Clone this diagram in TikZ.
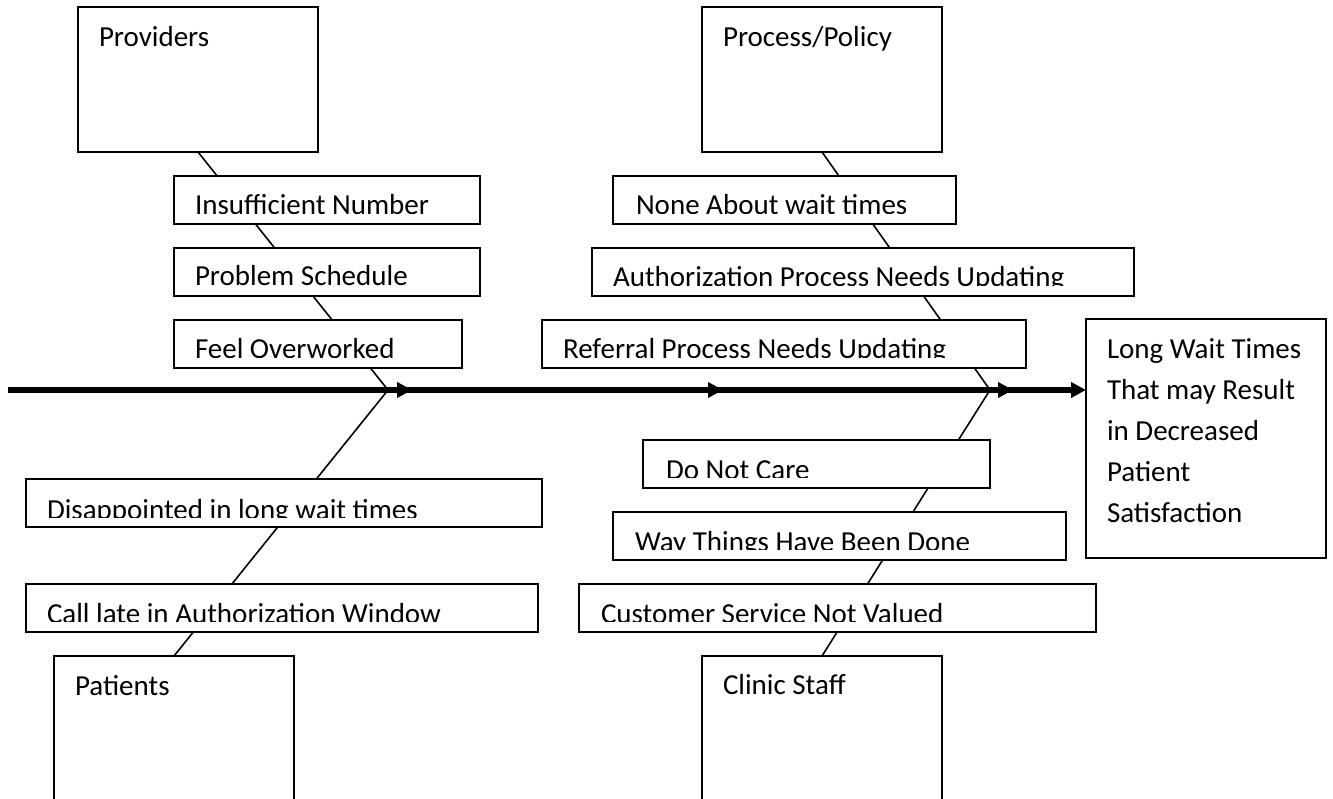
\documentclass[tikz,border=0pt]{standalone}
\usepackage{fontspec}
\setmainfont{Carlito}
\usetikzlibrary{arrows.meta}
\pgfdeclarelayer{background}
\pgfsetlayers{background,main}
\tikzset{
  catbox/.style={draw, line width=1.8pt, fill=white, minimum width=240pt, minimum height=145pt, anchor=north west, inner sep=0pt, outer sep=0pt},
  causebox/.style={draw, line width=1.8pt, fill=white, minimum height=48pt, anchor=north west, inner sep=0pt, outer sep=0pt},
  lbl/.style={anchor=base west, inner sep=0pt, outer sep=0pt, font=\fontsize{29}{35}\selectfont},
  bone/.style={line width=1.6pt},
  spine/.style={line width=5.5pt, -{Triangle[length=15pt,width=15pt]}},
}
\begin{document}
\begin{tikzpicture}[x=1pt,y=-1pt]
\begin{pgfonlayer}{background}
\fill[white] (0,0) rectangle (1333,799);
\end{pgfonlayer}
\useasboundingbox (0,0) rectangle (1333,799);

% category boxes
\node[catbox] (prov) at (78,7) {};
\node[lbl] (tprov) at (99,47) {Providers};
\node[catbox] (proc) at (702,7) {};
\node[lbl] (tproc) at (723,47) {Process/Policy};
\node[catbox] (pat) at (54,656) {};
\node[lbl] (tpat) at (75,695) {Patients};
\node[catbox] (clin) at (702,656) {};
\node[lbl] (tclin) at (723,694) {Clinic Staff};

% result box
\node[catbox, minimum height=239pt] (res) at (1086,319) {};
\node[lbl, align=left, font=\fontsize{29}{41}\selectfont] (tres) at (1107,522)
  {Long Wait Times\\That may Result\\in Decreased\\Patient\\Satisfaction};

% cause boxes (text clipped at the bottom as in the original)
\node[causebox, minimum width=306pt] (ins) at (174,176) {};
\begin{scope}\clip (174,176) rectangle (480,213.5);
\node[lbl] (tins) at (195,215) {Insufficient Number};\end{scope}

\node[causebox, minimum width=306pt] (prob) at (174,248) {};
\node[lbl] (tprob) at (195,286) {Problem Schedule};

\node[causebox, minimum width=288pt] (feel) at (174,320) {};
\begin{scope}\clip (174,320) rectangle (462,357.5);
\node[lbl] (tfeel) at (195,359) {Feel Overworked};\end{scope}

\node[causebox, minimum width=343pt] (none) at (613,176) {};
\begin{scope}\clip (613,176) rectangle (956,213.5);
\node[lbl] (tnone) at (636,215) {None About wait times};\end{scope}

\node[causebox, minimum width=542pt] (auth) at (592,248) {};
\begin{scope}\clip (592,248) rectangle (1134,285.5);
\node[lbl] (tauth) at (613,287) {Authorization Process Needs Updating};\end{scope}

\node[causebox, minimum width=484pt] (ref) at (542,320) {};
\begin{scope}\clip (542,320) rectangle (1026,357.5);
\node[lbl] (tref) at (563,359) {Referral Process Needs Updating};\end{scope}

\node[causebox, minimum width=516pt] (dis) at (26,479) {};
\begin{scope}\clip (26,479) rectangle (542,517.5);
\node[lbl] (tdis) at (47,519) {Disappointed in long wait times};\end{scope}

\node[causebox, minimum width=512pt] (call) at (26,584) {};
\begin{scope}\clip (26,584) rectangle (538,621.5);
\node[lbl] (tcall) at (47,623) {Call late in Authorization Window};\end{scope}

\node[causebox, minimum width=347pt] (dnc) at (643,440) {};
\begin{scope}\clip (643,440) rectangle (990,477.5);
\node[lbl] (tdnc) at (666,479) {Do Not Care};\end{scope}

\node[causebox, minimum width=453pt] (way) at (613,512) {};
\begin{scope}\clip (613,512) rectangle (1066,549.5);
\node[lbl] (tway) at (635,551) {Way Things Have Been Done};\end{scope}

\node[causebox, minimum width=517pt] (cust) at (579,584) {};
\begin{scope}\clip (579,584) rectangle (1096,621.5);
\node[lbl] (tcust) at (601,623) {Customer Service Not Valued};\end{scope}

% spine
\coordinate (s0) at (8,390);
\coordinate (a1) at (412,390);
\coordinate (b1) at (396,390);
\coordinate (a2) at (723,390);
\coordinate (b2) at (707,390);
\coordinate (a3) at (1013,390);
\coordinate (b3) at (997,390);
\coordinate (j1) at (388,390);
\coordinate (j2) at (990,390);

\begin{pgfonlayer}{background}
\draw[bone] (prov.south) -- (j1);
\draw[bone] (pat.north) -- (j1);
\draw[bone] (proc.south) -- (j2);
\draw[bone] (clin.north) -- (j2);
\draw[spine] (s0) -- (a1);
\draw[spine] (b1) -- (a2);
\draw[spine] (b2) -- (a3);
\draw[spine] (b3) -- (b3 -| res.west);
\end{pgfonlayer}
\end{tikzpicture}
\end{document}
